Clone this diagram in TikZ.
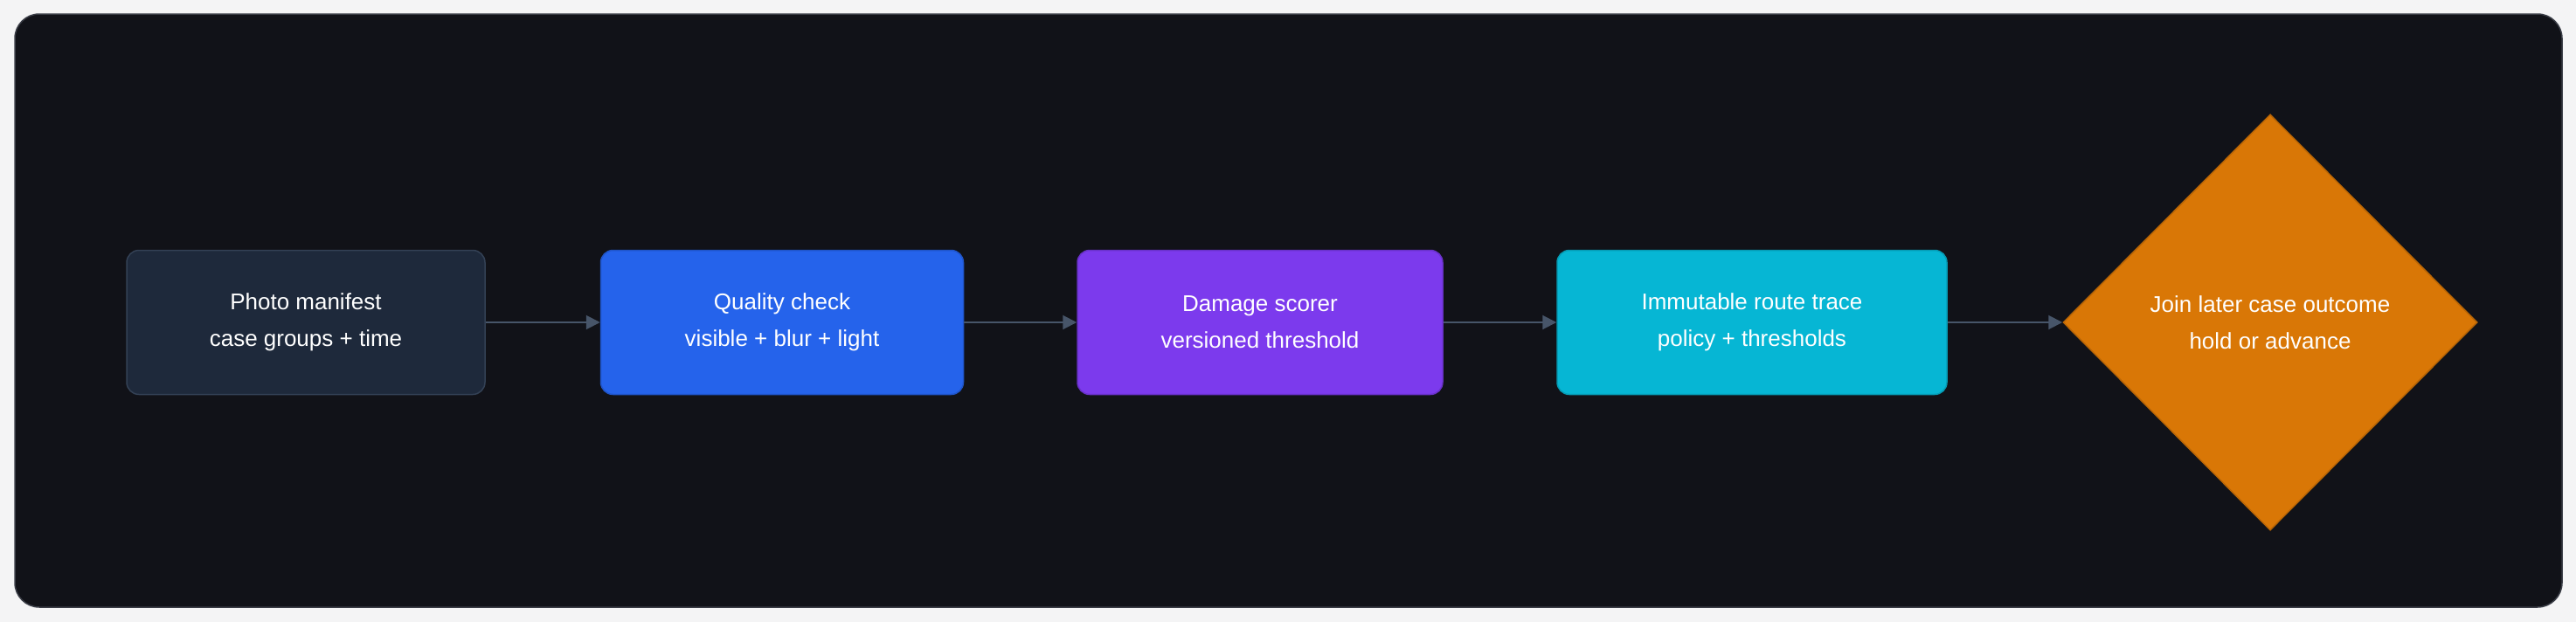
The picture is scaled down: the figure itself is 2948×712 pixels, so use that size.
\documentclass[tikz,border=0pt]{standalone}
\usepackage{fontspec}
\setmainfont{Liberation Sans}
\usetikzlibrary{shapes.geometric,arrows.meta}
\definecolor{outer}{HTML}{F4F4F5}
\definecolor{panel}{HTML}{111218}
\definecolor{panelb}{HTML}{3A3D46}
\definecolor{slate}{HTML}{1E293B}
\definecolor{slateb}{HTML}{334155}
\definecolor{blue}{HTML}{2563EB}
\definecolor{purple}{HTML}{7C3AED}
\definecolor{cyan}{HTML}{06B6D4}
\definecolor{orange}{HTML}{D97706}
\definecolor{arr}{HTML}{475569}
\begin{document}
\begin{tikzpicture}[x=1pt,y=-1pt,
  box/.style={rounded corners=14pt,minimum width=#1,minimum height=165pt,inner sep=0pt,
    text=white,font=\fontsize{26}{42}\selectfont,align=center,line width=1.5pt},
  flow/.style={draw=arr,line width=2pt,-{Triangle[length=16pt,width=16pt]}}]
\useasboundingbox (0,0) rectangle (2948,712);
\fill[outer] (0,0) rectangle (2948,712);
\draw[fill=panel,draw=panelb,line width=1.5pt,rounded corners=28pt] (17,16) rectangle (2932,695);
\node[box=410pt,fill=slate,draw=slateb] (a) at (350,369) {Photo manifest\\case groups + time};
\node[box=415pt,fill=blue,draw=blue!85!black] (b) at (895,369) {Quality check\\visible + blur + light};
\node[box=418pt,fill=purple,draw=purple!85!black] (c) at (1442,369) {Damage scorer\\versioned threshold};
\node[box=446pt,fill=cyan,draw=cyan!85!black] (d) at (2005,369) {Immutable route trace\\policy + thresholds};
\node[diamond,fill=orange,draw=orange!85!black,line width=1.5pt,minimum width=474pt,minimum height=476pt,inner sep=0pt,
  text=white,font=\fontsize{26}{42}\selectfont,align=center] (e) at (2598,369) {Join later case outcome\\hold or advance};
\draw[flow] (a) -- (b);
\draw[flow] (b) -- (c);
\draw[flow] (c) -- (d);
\draw[flow] (d) -- (e);
\end{tikzpicture}
\end{document}
